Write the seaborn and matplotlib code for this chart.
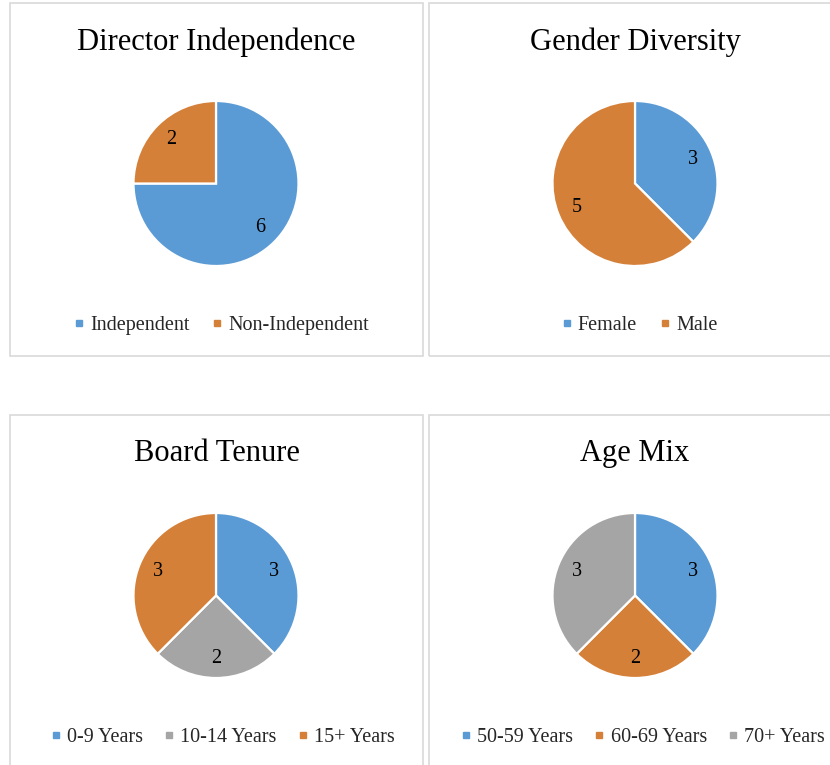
import matplotlib
matplotlib.use("Agg")
import matplotlib.pyplot as plt
from matplotlib.patches import Rectangle
from matplotlib.lines import Line2D
import seaborn as sns

# ---- data ----
independence_labels = ["Independent", "Non-Independent"]
independence_values = [6, 2]
gender_labels = ["Female", "Male"]
gender_values = [3, 5]
tenure_labels = ["0-9 Years", "10-14 Years", "15+ Years"]
tenure_values = [3, 2, 3]
age_labels = ["50-59 Years", "60-69 Years", "70+ Years"]
age_values = [3, 2, 3]
titles = ["Director Independence", "Gender Diversity", "Board Tenure", "Age Mix"]

BLUE = "#5B9BD5"
ORANGE = "#D58038"
GRAY = "#A5A5A5"

sns.set_theme(style="white")
plt.rcParams["font.family"] = ["Liberation Serif", "DejaVu Serif"]

W, H = 830, 765
fig = plt.figure(figsize=(W / 100, H / 100), dpi=100)
fig.patch.set_facecolor("white")

def fx(x):
    return x / W

def fy(y):
    return 1 - y / H

# panel frames (pixel boxes)
panels = [(10, 3, 423, 356), (429, 3, 845, 356), (10, 415, 423, 780), (429, 415, 845, 780)]
for x0, y0, x1, y1 in panels:
    fig.add_artist(Rectangle((fx(x0), fy(y1)), (x1 - x0) / W, (y1 - y0) / H,
                             transform=fig.transFigure, fill=False,
                             edgecolor="#D9D9D9", linewidth=1.2))

charts = [
    (independence_labels, independence_values, [BLUE, ORANGE], titles[0], 216, 183.5, 216.5, 50, 221, 325.5, 1.1),
    (gender_labels, gender_values, [BLUE, ORANGE], titles[1], 635, 183.5, 635, 50, 639, 325.5, 1.1),
    (tenure_labels, tenure_values, [BLUE, GRAY, ORANGE], titles[2], 216, 595.5, 216.5, 461, 222.5, 737, 1.0),
    (age_labels, age_values, [BLUE, ORANGE, GRAY], titles[3], 635, 595.5, 635, 461, 642.5, 737, 1.0),
]

R = 82.5
pad = 1.05
for labels, values, colors, title, cx, cy, tx, ty, lx, ly, cs in charts:
    ax = fig.add_axes([fx(cx - R * pad), fy(cy + R * pad), 2 * R * pad / W, 2 * R * pad / H])
    total = sum(values)
    wedges, _, autotexts = ax.pie(
        values, colors=colors, startangle=90, counterclock=False,
        autopct=lambda p, t=total: f"{round(p * t / 100):d}",
        pctdistance=0.76, radius=1,
        wedgeprops=dict(edgecolor="white", linewidth=1.6),
        textprops=dict(fontsize=14.5, color="#000000"))
    ax.set_xlim(-pad, pad)
    ax.set_ylim(-pad, pad)
    ax.axis("off")
    fig.text(fx(tx), fy(ty), title, ha="center", va="baseline", fontsize=22, color="#000000")
    handles = [Line2D([0], [0], marker="s", linestyle="none", markersize=4.5,
                      markerfacecolor=c, markeredgecolor=c) for c in colors]
    fig.legend(handles, labels, loc="center", bbox_to_anchor=(fx(lx), fy(ly)),
               ncol=len(labels), frameon=False, fontsize=14.5,
               handlelength=0.6, handletextpad=0.25, columnspacing=cs,
               borderpad=0, borderaxespad=0)

fig.savefig("out.png", dpi=100, facecolor="white")
